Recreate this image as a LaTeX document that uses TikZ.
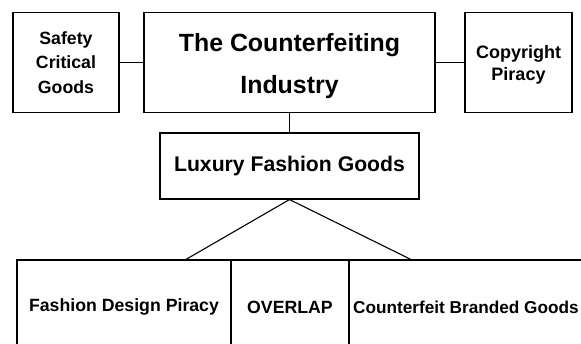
\documentclass[tikz,border=0pt]{standalone}
\usepackage{fontspec}
\setmainfont{Liberation Sans}
\begin{document}
\begin{tikzpicture}[x=1pt,y=-1pt,
  box/.style={draw=black,line width=1.1pt,inner sep=0pt,align=center,font=\bfseries},
  lbl/.style={inner sep=0pt,align=center},
  conn/.style={draw=black,line width=1.1pt}]
\useasboundingbox (0,0) rectangle (581,344);
\clip (0,0) rectangle (581,344);
\node[box,minimum width=106pt,minimum height=100pt,font=\bfseries\fontsize{17.7}{24.5}\selectfont] (safety) at (66,62.5) {Safety\\Critical\\Goods};
\node[box,minimum width=291pt,minimum height=100pt] (main) at (289.5,62.5) {};
\node[lbl,font=\bfseries\fontsize{24.9}{42}\selectfont] (maintext) at (289.5,66) {The Counterfeiting\\Industry};
\node[box,minimum width=107pt,minimum height=100pt] (copy) at (518.5,62.5) {};
\node[lbl,font=\bfseries\fontsize{18}{22}\selectfont] (copytext) at (518.5,64.5) {Copyright\\Piracy};
\node[box,minimum width=259pt,minimum height=66pt,font=\bfseries\fontsize{21.2}{25}\selectfont] (lux) at (289.5,166) {Luxury Fashion Goods};
\node[box,minimum width=214pt,minimum height=94pt,font=\bfseries\fontsize{17.7}{22}\selectfont] (fdp) at (124,307) {Fashion Design Piracy};
\node[box,minimum width=118pt,minimum height=94pt,font=\bfseries\fontsize{17.7}{22}\selectfont] (ovl) at (290,307) {OVERLAP};
\node[box,minimum width=240pt,minimum height=94pt] (cbg) at (469,307) {};
\node[lbl,anchor=west,font=\bfseries\fontsize{17.2}{22}\selectfont] (cbgtext) at (353,307) {Counterfeit Branded Goods};
\coordinate (fl) at (185,260);
\coordinate (fr) at (412,260);
\draw[conn] (safety.east) -- (main.west);
\draw[conn] (main.east) -- (copy.west);
\draw[conn] (main.south) -- (lux.north);
\draw[conn] (fl) -- (lux.south) -- (fr);
\end{tikzpicture}
\end{document}
